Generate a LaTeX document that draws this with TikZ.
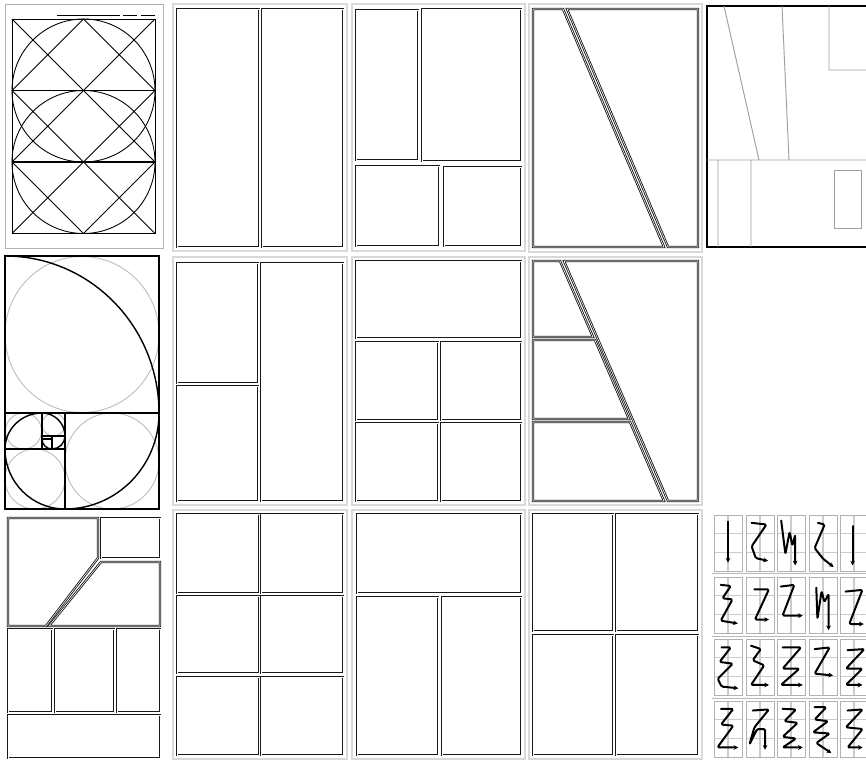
\documentclass[tikz,border=0pt]{standalone}
\usetikzlibrary{arrows.meta}
\newcommand{\thumb}[3]{%
  \begin{scope}[shift={(#1,#2)},xscale=28,yscale=56]
    \draw[draw=gray!40,line width=1.3pt] (0,0.33) -- (1,0.33) (0,0.67) -- (1,0.67) (0.5,0) -- (0.5,1);
    \draw[draw=gray!60,line width=0.5pt] (0,0) rectangle (1,1);
    \draw[zarrow] #3;
  \end{scope}}
\begin{document}
\begin{tikzpicture}[
    x=0.03cm,y=-0.03cm,
    tileframe/.style={draw=gray!75,double=gray!30,double distance=1.1pt,line width=0.5pt},
    panel/.style={draw=black!90,double=white,double distance=0.5pt,line width=0.75pt},
    guide/.style={draw=black,line width=0.75pt},
    spiral/.style={draw=black,line width=1.2pt},
    faintring/.style={draw=gray!50,line width=0.8pt},
    sketchline/.style={draw=gray!75,line width=0.8pt},
    zarrow/.style={draw=black,line width=1.7pt,line join=round,line cap=round,rounded corners=1.2pt,-{Stealth[length=4pt,width=4pt]}}
]
\clip (0,0) rectangle (866,764);
\fill[white] (0,0) rectangle (866,764);

\draw[gray!60,line width=0.5pt] (5,4) rectangle (163,248);
\draw[black,line width=0.5pt] (57,15) -- (120,15) (123,15) -- (137,15) (141,15) -- (155,15);
\draw[guide] (12,19) rectangle (155,233.5);
\draw[guide,line width=1pt] (12,90.5) -- (155,90.5) (12,162) -- (155,162);
\foreach \cx in {12,83.5}
  \foreach \cy in {19,90.5,162}
    \draw[guide] (\cx,\cy) -- ++(71.5,71.5) (\cx+71.5,\cy) -- ++(-71.5,71.5);
\draw[guide] (83.5,90.5) circle[radius=71.5];
\draw[guide] (83.5,162) circle[radius=71.5];

\draw[faintring] (82,334.5) circle[x radius=77,y radius=78];
\draw[faintring] (112,461) circle[x radius=47,y radius=48];
\draw[faintring] (35,479) circle[radius=30];
\draw[faintring] (23.5,431) circle[radius=18];
\draw[faintring] (53.5,424.5) circle[radius=11.5];
\draw[black,line width=1.2pt] (5,256) rectangle (159,509);
\draw[black,line width=1pt] (5,413) -- (159,413) (65,413) -- (65,509) (5,449) -- (65,449)
  (42,413) -- (42,449) (42,436) -- (65,436) (52,436) -- (52,449) (42,439) -- (52,439);
\draw[spiral] (5,256) arc[start angle=-90,end angle=0,x radius=154,y radius=157]
  arc[start angle=0,end angle=90,x radius=94,y radius=96]
  arc[start angle=90,end angle=180,radius=60]
  arc[start angle=180,end angle=270,x radius=37,y radius=36]
  arc[start angle=270,end angle=360,radius=23]
  arc[start angle=0,end angle=90,radius=13]
  arc[start angle=90,end angle=180,radius=10];

\draw[panel] (8,518) -- (98,518) -- (98,558) -- (46,626) -- (8,626) -- cycle;
\draw[panel] (101,518) rectangle (160,558);
\draw[panel] (101,562) -- (160,562) -- (160,626) -- (49,626) -- cycle;
\draw[panel] (8,629) rectangle (52,712);
\draw[panel] (55,629) rectangle (114,712);
\draw[panel] (117,629) rectangle (160,712);
\draw[panel] (8,715) rectangle (160,758);

\foreach \tx/\ty/\bx/\by in {173/4/347/251,352/4/525/251,529/4/702/252,
    173/257/347/505,352/257/525/505,529/257/702/505,
    173/510/347/759,352/510/525/759,529/510/702/759}
  \draw[tileframe] (\tx,\ty) rectangle (\bx,\by);

\draw[panel] (177,9) rectangle (259,247);
\draw[panel] (262,9) rectangle (343,247);

\draw[panel] (356,10) rectangle (418,160);
\draw[panel] (422,9) rectangle (521,161);
\draw[panel] (356,166) rectangle (439,246);
\draw[panel] (444,167) rectangle (521,246);

\draw[panel] (533,9) -- (563,9) -- (664,247) -- (533,247) -- cycle;
\draw[panel] (567,9) -- (698,9) -- (698,247) -- (668,247) -- cycle;

\draw[black,line width=1.9pt] (707,6) rectangle (880,247);
\draw[sketchline] (707,160) -- (870,160)
  (724,6) -- (759,160)
  (782,6) -- (789,160)
  (829,6) -- (829,70) -- (870,70)
  (718,160) -- (718,247)
  (751,160) -- (751,247);
\draw[sketchline] (834,170) rectangle (861,228);

\draw[panel] (177,263) rectangle (258,383);
\draw[panel] (177,386) rectangle (258,501);
\draw[panel] (261,263) rectangle (343,501);

\draw[panel] (356,261) rectangle (521,338);
\draw[panel] (356,342) rectangle (438,420);
\draw[panel] (441,342) rectangle (521,420);
\draw[panel] (356,423) rectangle (438,501);
\draw[panel] (441,423) rectangle (521,501);

\draw[panel] (533,261) -- (560,261) -- (593,337) -- (533,337) -- cycle;
\draw[panel] (533,340) -- (595,340) -- (629,419) -- (533,419) -- cycle;
\draw[panel] (533,422) -- (630,422) -- (664,501) -- (533,501) -- cycle;
\draw[panel] (564,261) -- (698,261) -- (698,501) -- (668,501) -- cycle;

\foreach \px in {177,261}
  \foreach \py/\qy in {514/593,596/673,677/755}
    \draw[panel] (\px,\py) rectangle (\px+82,\qy);

\draw[panel] (357,514) rectangle (521,593);
\draw[panel] (357,597) rectangle (438,755);
\draw[panel] (442,597) rectangle (521,755);

\draw[panel] (533,514) rectangle (613,631);
\draw[panel] (616,514) rectangle (698,631);
\draw[panel] (533,635) rectangle (613,755);
\draw[panel] (616,635) rectangle (698,755);

\draw[gray!55,line width=0.7pt] (712,573) -- (870,573) (712,636) -- (870,636) (712,698) -- (870,698);

\thumb{714}{515}{(0.5,0.12) -- (0.5,0.85)}
\thumb{746}{515}{(0.2,0.14) -- (0.73,0.17) -- (0.2,0.56) -- (0.35,0.77) -- (0.79,0.82)}
\thumb{777}{515}{(0.15,0.1) -- (0.3,0.7) -- (0.45,0.3) -- (0.55,0.55) -- (0.65,0.35) -- (0.65,0.9)}
\thumb{809}{515}{(0.32,0.14) -- (0.56,0.17) -- (0.2,0.59) -- (0.5,0.78) -- (0.88,0.93)}
\thumb{840}{515}{(0.45,0.2) -- (0.45,0.9)}

\thumb{714}{577}{(0.24,0.14) -- (0.6,0.16) -- (0.3,0.38) -- (0.66,0.4) -- (0.24,0.78) -- (0.85,0.83)}
\thumb{746}{577}{(0.3,0.22) -- (0.82,0.22) -- (0.32,0.76) -- (0.82,0.76)}
\thumb{777}{577}{(0.14,0.17) -- (0.62,0.14) -- (0.2,0.69) -- (0.92,0.69)}
\thumb{809}{577}{(0.26,0.19) -- (0.3,0.75) -- (0.45,0.25) -- (0.55,0.45) -- (0.7,0.3) -- (0.7,0.95)}
\thumb{840}{577}{(0.2,0.26) -- (0.8,0.23) -- (0.33,0.84) -- (0.85,0.84)}

\thumb{714}{639}{(0.27,0.15) -- (0.6,0.15) -- (0.2,0.41) -- (0.67,0.44) -- (0.13,0.71) -- (0.27,0.85) -- (0.87,0.88)}
\thumb{746}{639}{(0.18,0.12) -- (0.53,0.18) -- (0.24,0.38) -- (0.65,0.47) -- (0.18,0.82) -- (0.82,0.82)}
\thumb{777}{639}{(0.2,0.15) -- (0.86,0.15) -- (0.2,0.53) -- (0.8,0.53) -- (0.14,0.82) -- (0.92,0.82)}
\thumb{809}{639}{(0.2,0.18) -- (0.74,0.15) -- (0.2,0.62) -- (0.86,0.65)}
\thumb{840}{639}{(0.27,0.2) -- (0.87,0.18) -- (0.21,0.53) -- (0.8,0.53) -- (0.21,0.82) -- (0.8,0.82)}

\thumb{714}{701}{(0.25,0.14) -- (0.69,0.14) -- (0.25,0.42) -- (0.69,0.44) -- (0.12,0.83) -- (0.87,0.83)}
\thumb{746}{701}{(0.24,0.17) -- (0.82,0.15) -- (0.3,0.47) -- (0.12,0.78) -- (0.4,0.5) -- (0.68,0.5) -- (0.68,0.87)}
\thumb{777}{701}{(0.2,0.14) -- (0.68,0.15) -- (0.26,0.36) -- (0.74,0.39) -- (0.2,0.64) -- (0.68,0.67) -- (0.2,0.83) -- (0.92,0.83)}
\thumb{809}{701}{(0.2,0.11) -- (0.62,0.11) -- (0.2,0.33) -- (0.68,0.36) -- (0.14,0.56) -- (0.74,0.58) -- (0.26,0.75) -- (0.8,0.93)}
\thumb{840}{701}{(0.27,0.17) -- (0.81,0.15) -- (0.21,0.47) -- (0.81,0.5) -- (0.27,0.83) -- (0.81,0.83)}
\end{tikzpicture}
\end{document}
